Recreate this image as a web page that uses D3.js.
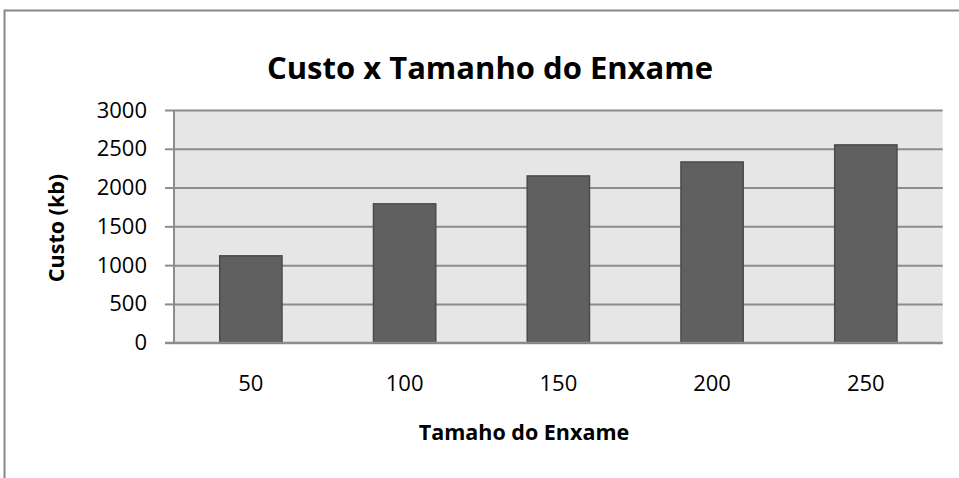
<!DOCTYPE html>
<html>
<head>
<meta charset="utf-8">
<script src="https://cdn.jsdelivr.net/npm/d3@7"></script>
<style>
  html, body { margin: 0; padding: 0; background: #ffffff; }
  svg { display: block; }
  text { font-family: "Open Sans", "DejaVu Sans", sans-serif; fill: #000; }
</style>
</head>
<body>
<svg id="chart" width="959" height="478"></svg>
<script>
const categories = ["50", "100", "150", "200", "250"];
const custoValues = [1120, 1790, 2150, 2330, 2550];
const yTickValues = [0, 500, 1000, 1500, 2000, 2500, 3000];
const chartTitle = "Custo x Tamanho do Enxame";
const xAxisTitle = "Tamaho do Enxame";
const yAxisTitle = "Custo (kb)";

const svg = d3.select("#chart");

// outer chart frame (extends beyond the visible window on right/bottom)
svg.append("rect")
  .attr("x", 4.5).attr("y", 10.5)
  .attr("width", 1000).attr("height", 600)
  .attr("fill", "#fff")
  .attr("stroke", "#878787")
  .attr("stroke-width", 2);

const plot = { left: 174, right: 942.7, top: 110, bottom: 342.7 };

const x = d3.scaleBand()
  .domain(categories)
  .range([plot.left, plot.right])
  .paddingInner(0.595)
  .paddingOuter(0.2975);

const y = d3.scaleLinear()
  .domain([0, 3000])
  .range([plot.bottom, plot.top]);

// plot background
svg.append("rect")
  .attr("x", plot.left).attr("y", plot.top)
  .attr("width", plot.right - plot.left)
  .attr("height", plot.bottom - plot.top)
  .attr("fill", "#e6e6e6");

// gridlines
const grid = svg.append("g")
  .attr("transform", `translate(${plot.left},0)`)
  .call(d3.axisLeft(y).tickValues(yTickValues).tickSize(-(plot.right - plot.left)).tickFormat(""));
grid.select(".domain").remove();
grid.selectAll("line").attr("stroke", "#8c8c8c").attr("stroke-width", 2);

// bars
svg.append("g").selectAll("rect")
  .data(custoValues)
  .join("rect")
  .attr("x", (d, i) => x(categories[i]))
  .attr("width", x.bandwidth())
  .attr("y", d => y(d))
  .attr("height", d => y(0) - y(d))
  .attr("fill", "#606060")
  .attr("stroke", "#4b4b4b")
  .attr("stroke-width", 1.5);

// y axis
const yAxis = svg.append("g")
  .attr("transform", `translate(${plot.left},0)`)
  .call(d3.axisLeft(y).tickValues(yTickValues).tickSize(9).tickPadding(18).tickFormat(d3.format("d")));
yAxis.select(".domain").attr("stroke", "#8c8c8c").attr("stroke-width", 2).attr("d", `M0,${plot.top}V${plot.bottom}`);
yAxis.selectAll("line").attr("stroke", "#8c8c8c").attr("stroke-width", 2);
yAxis.selectAll("text")
  .style("font-family", '"Open Sans", sans-serif')
  .style("font-size", "22px")
  .attr("fill", "#000");

// x axis
const xAxis = svg.append("g")
  .attr("transform", `translate(0,${plot.bottom})`)
  .call(d3.axisBottom(x).tickSize(0).tickPadding(33));
xAxis.select(".domain").attr("stroke", "#8c8c8c").attr("stroke-width", 2)
  .attr("d", `M${plot.left - 9},0H${plot.right}`);
xAxis.selectAll("text")
  .style("font-family", '"Open Sans", sans-serif')
  .style("font-size", "22px")
  .attr("fill", "#000");

// titles
svg.append("text")
  .attr("x", 490).attr("y", 78.5)
  .attr("text-anchor", "middle")
  .style("font-size", "31px")
  .style("font-weight", "700")
  .text(chartTitle);

svg.append("text")
  .attr("x", 524).attr("y", 440)
  .attr("text-anchor", "middle")
  .style("font-size", "21.5px")
  .style("font-weight", "700")
  .text(xAxisTitle);

svg.append("text")
  .attr("transform", "translate(64,228) rotate(-90)")
  .attr("text-anchor", "middle")
  .style("font-size", "21.5px")
  .style("font-weight", "700")
  .text(yAxisTitle);
</script>
</body>
</html>
